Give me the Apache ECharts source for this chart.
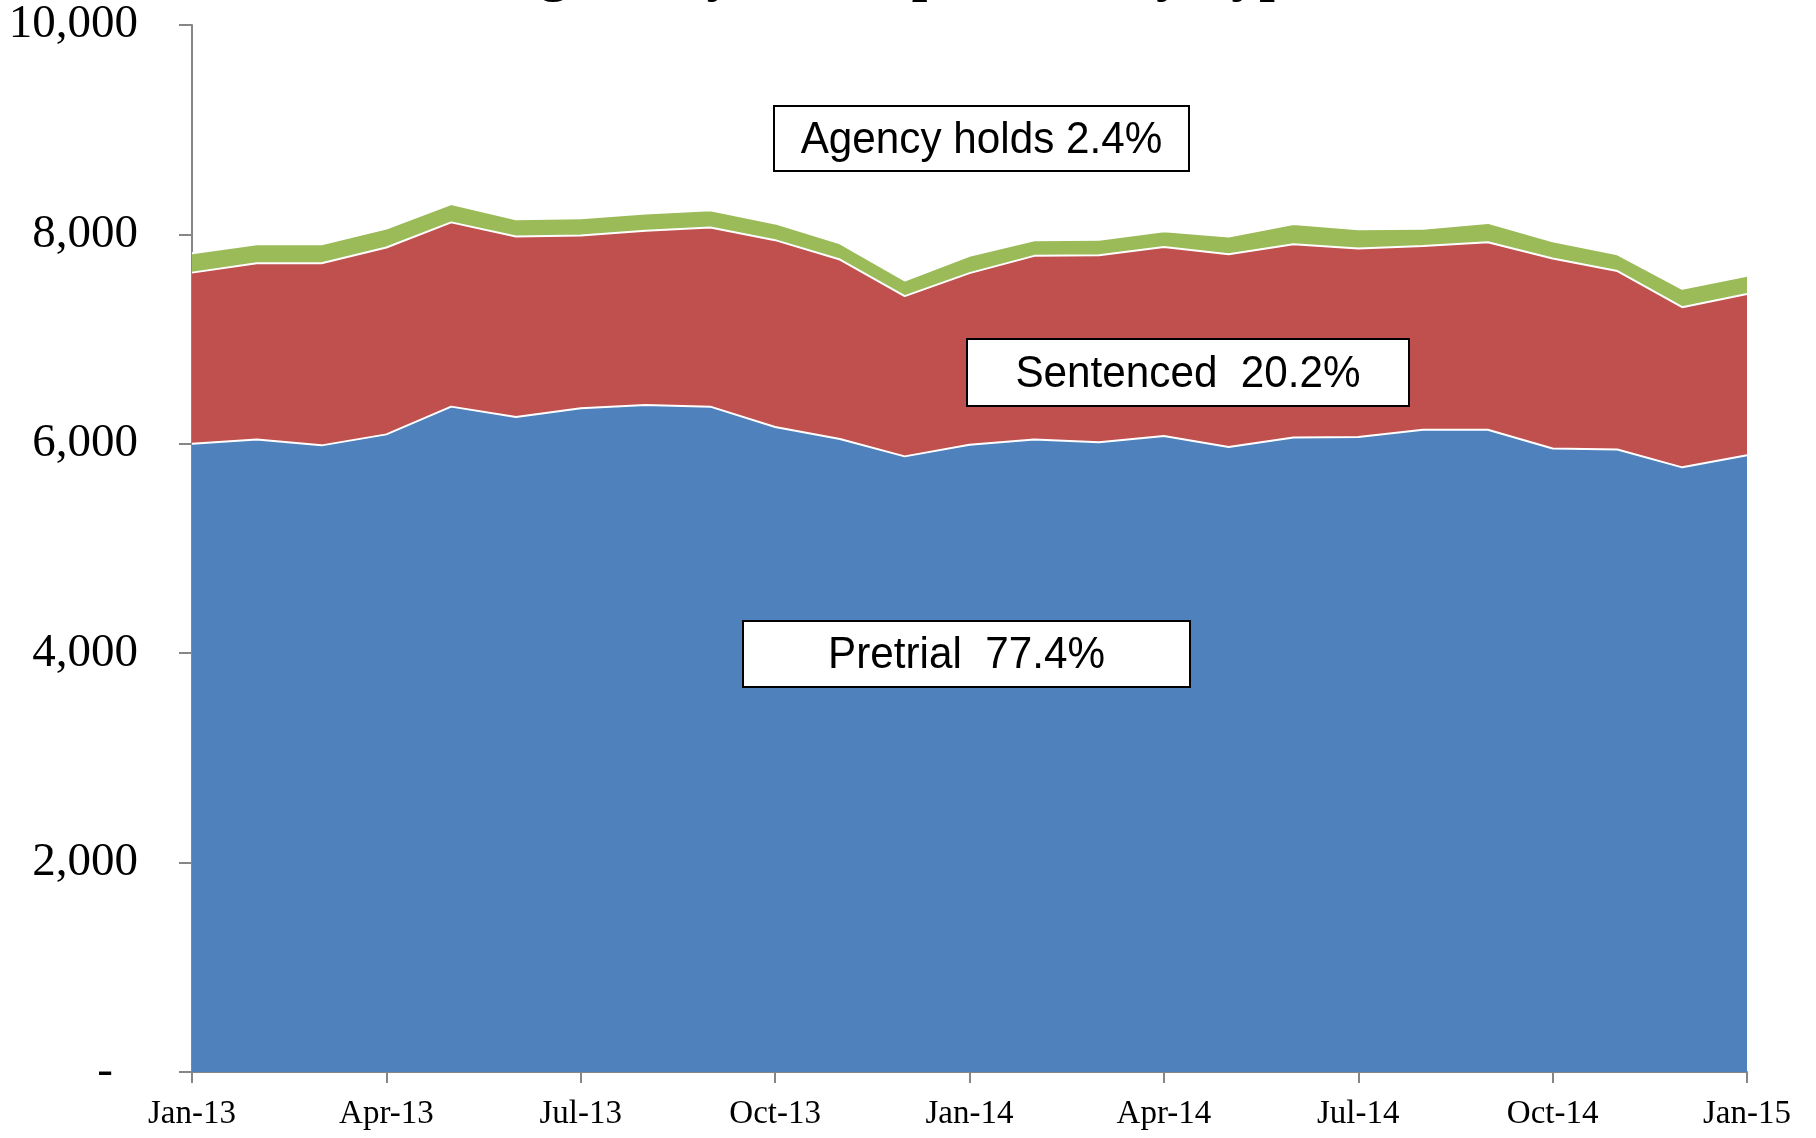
<!DOCTYPE html>
<html>
<head>
<meta charset="utf-8">
<title>Average Daily Jail Population by Type</title>
<script src="https://cdn.jsdelivr.net/npm/echarts@6/dist/echarts.min.js"></script>
<style>
  html, body { margin: 0; padding: 0; background: #fff; }
  #chart { width: 1816px; height: 1138px; }
</style>
</head>
<body>
<div id="chart"></div>
<script>
var months = [
  'Jan-13', 'Feb-13', 'Mar-13', 'Apr-13', 'May-13', 'Jun-13', 'Jul-13', 'Aug-13', 'Sep-13',
  'Oct-13', 'Nov-13', 'Dec-13', 'Jan-14', 'Feb-14', 'Mar-14', 'Apr-14', 'May-14', 'Jun-14',
  'Jul-14', 'Aug-14', 'Sep-14', 'Oct-14', 'Nov-14', 'Dec-14', 'Jan-15'
];
var pretrial = [
  6000, 6040, 5985, 6090, 6355, 6255, 6340, 6370, 6355, 6160, 6045, 5880, 5990,
  6040, 6015, 6075, 5970, 6060, 6065, 6135, 6135, 5955, 5945, 5775, 5890
];
var sentenced = [
  1635, 1685, 1740, 1785, 1760, 1725, 1650, 1665, 1710, 1785, 1715, 1530, 1640,
  1755, 1785, 1805, 1840, 1845, 1800, 1755, 1790, 1815, 1705, 1530, 1540
];
var agencyHolds = [
  185, 180, 180, 180, 175, 165, 165, 165, 165, 160, 155, 150, 165,
  150, 150, 150, 170, 195, 185, 165, 185, 165, 160, 175, 175
];
var yTicks = [0, 2000, 4000, 6000, 8000, 10000];

(function () {
  var serif = '"Liberation Serif", "Times New Roman", serif';
  var sans = '"Liberation Sans", Arial, sans-serif';
  var axisGray = '#868686';

  function box(x, y, w, h, text) {
    return {
      type: 'group',
      children: [
        {
          type: 'rect',
          shape: { x: x, y: y, width: w, height: h },
          style: { fill: '#fff', stroke: '#000', lineWidth: 2 },
          z: 10
        },
        {
          type: 'text',
          x: x + w / 2,
          y: y + h / 2 + 2,
          scaleX: 0.96,
          style: {
            text: text,
            font: '44px ' + sans,
            fill: '#000',
            textAlign: 'center',
            textVerticalAlign: 'middle',
            verticalAlign: 'middle'
          },
          z: 11
        }
      ]
    };
  }

  function area(name, data, color, z) {
    return {
      name: name,
      type: 'line',
      stack: 'total',
      data: data,
      symbol: 'none',
      z: z,
      lineStyle: { color: '#fff', width: 2 },
      areaStyle: { color: color, opacity: 1 },
      itemStyle: { color: color }
    };
  }

  var chart = echarts.init(document.getElementById('chart'), null, { renderer: 'canvas' });
  chart.setOption({
    animation: false,
    backgroundColor: '#fff',
    grid: { left: 192, right: 69, top: 25, bottom: 66, containLabel: false },
    xAxis: {
      type: 'category',
      data: months,
      boundaryGap: false,
      axisLine: { lineStyle: { color: axisGray, width: 2 } },
      axisTick: { show: true, interval: 2, length: 11, lineStyle: { color: axisGray, width: 2 } },
      axisLabel: {
        interval: 2,
        margin: 26,
        color: '#000',
        fontFamily: serif,
        fontSize: 33
      },
      splitLine: { show: false }
    },
    yAxis: {
      type: 'value',
      min: yTicks[0],
      max: yTicks[yTicks.length - 1],
      interval: yTicks[1] - yTicks[0],
      axisLine: { show: true, lineStyle: { color: axisGray, width: 2 } },
      axisTick: { show: true, length: 13, lineStyle: { color: axisGray, width: 2 } },
      axisLabel: {
        margin: 54,
        color: '#000',
        fontFamily: serif,
        fontSize: 47,
        formatter: function (v) {
          if (v === 0) return '{dash|-}';
          return v.toLocaleString('en-US');
        },
        rich: {
          dash: { fontFamily: serif, fontSize: 47, color: '#000', padding: [0, 25, 0, 0] }
        }
      },
      splitLine: { show: false }
    },
    series: [
      area('Pretrial', pretrial, '#4F81BD', 4),
      area('Sentenced', sentenced, '#C0504D', 3),
      area('Agency holds', agencyHolds, '#9BBB59', 2)
    ],
    graphic: [
      {
        type: 'text',
        x: 398,
        y: -24,
        style: {
          text: 'Average Daily Jail Population by Type',
          font: 'bold 56px ' + serif,
          fill: '#000',
          textAlign: 'left',
          textVerticalAlign: 'middle',
          verticalAlign: 'middle'
        }
      },
      box(774, 106, 415, 65, 'Agency holds 2.4%'),
      box(967, 339, 442, 67, 'Sentenced  20.2%'),
      box(743, 621, 447, 66, 'Pretrial  77.4%')
    ]
  });
})();
</script>
</body>
</html>
